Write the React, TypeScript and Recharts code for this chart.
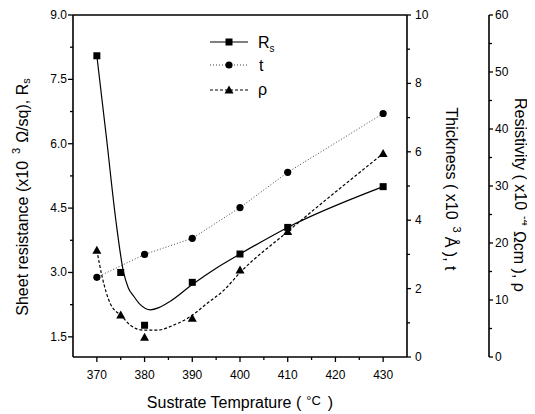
import { ComposedChart, Line, XAxis, YAxis, ReferenceLine } from 'recharts';

// measured points
const temps = [370, 375, 380, 390, 400, 410, 430];
const sheetRes = [8.05, 3.0, 1.77, 2.77, 3.43, 4.05, 5.0];
const thickTemps = [370, 380, 390, 400, 410, 430];
const thickness = [2.33, 3.0, 3.47, 4.37, 5.4, 7.12];
const resistivity = [18.75, 7.36, 3.45, 6.8, 15.25, 22.0, 35.7];

// fitted curves
const rsFitTemps = [370, 372, 374, 375.6, 376.6, 377.7, 379.1, 381.2, 383, 385.4, 390, 395, 400, 410, 430];
const rsFitValues = [8.05, 6.15, 4.2, 3.0, 2.64, 2.45, 2.25, 2.13, 2.18, 2.33, 2.72, 3.1, 3.43, 4.05, 5.0];
const rhoFitTemps = [370, 371.1, 372.8, 375.3, 377, 379.8, 382.6, 386.1, 389.6, 393.1, 396.6, 400, 410, 430];
const rhoFitValues = [18.75, 14.1, 9.4, 7.1, 5.6, 4.7, 4.7, 5.6, 7.1, 9.4, 11.7, 14.8, 22.0, 35.7];

// ticks
const xMajor = [370, 380, 390, 400, 410, 420, 430];
const xMinor = [375, 385, 395, 405, 415, 425];
const leftMajor = [1.5, 3.0, 4.5, 6.0, 7.5, 9.0];
const leftMinor = [2.25, 3.75, 5.25, 6.75, 8.25];
const thickMajor = [0, 2, 4, 6, 8, 10];
const thickMinor = [1, 3, 5, 7, 9];
const rhoMajor = [0, 10, 20, 30, 40, 50, 60];
const rhoMinor = [5, 15, 25, 35, 45, 55];

const FONT = '"Liberation Sans", Arial, sans-serif';
const W = 527;
const H = 406;

const toRows = (xs: number[], ys: number[]) => xs.map((t, i) => ({ temp: t, value: ys[i] }));

const rsData = toRows(temps, sheetRes);
const thickData = toRows(thickTemps, thickness);
const rhoData = toRows(temps, resistivity);
const rsFit = toRows(rsFitTemps, rsFitValues);
const rhoFit = toRows(rhoFitTemps, rhoFitValues);

const Square = (p: any) => (
  <rect key={`sq-${p.index}`} x={p.cx - 3.5} y={p.cy - 3.5} width={7} height={7} fill="#000" />
);
const Dot = (p: any) => <circle key={`ci-${p.index}`} cx={p.cx} cy={p.cy} r={3.6} fill="#000" />;
const Tri = (p: any) => (
  <polygon
    key={`tr-${p.index}`}
    points={`${p.cx},${p.cy - 4.5} ${p.cx + 4.5},${p.cy + 3.5} ${p.cx - 4.5},${p.cy + 3.5}`}
    fill="#000"
  />
);

const tickText = { fontSize: 12, fontFamily: FONT, fill: '#000' };

const bottomTick = (p: any) => {
  const major = xMajor.includes(p.payload.value);
  return (
    <g>
      <line x1={p.x} x2={p.x} y1={p.y} y2={p.y + (major ? 5 : 3)} stroke="#000" strokeWidth={1.3} />
      {major && (
        <text x={p.x} y={p.y + 22} textAnchor="middle" {...tickText}>
          {p.payload.value}
        </text>
      )}
    </g>
  );
};

const leftTick = (p: any) => {
  const major = leftMajor.includes(p.payload.value);
  return (
    <g>
      <line x1={p.x - (major ? 5 : 3)} x2={p.x} y1={p.y} y2={p.y} stroke="#000" strokeWidth={1.3} />
      {major && (
        <text x={p.x - 6} y={p.y + 4} textAnchor="end" {...tickText}>
          {p.payload.value.toFixed(1)}
        </text>
      )}
    </g>
  );
};

const rightTick = (majors: number[], gap: number) => (p: any) => {
  const major = majors.includes(p.payload.value);
  return (
    <g>
      <line x1={p.x} x2={p.x + (major ? 4 : 3)} y1={p.y} y2={p.y} stroke="#000" strokeWidth={1.3} />
      {major && (
        <text x={p.x + gap} y={p.y + 4} textAnchor="start" {...tickText}>
          {p.payload.value}
        </text>
      )}
    </g>
  );
};

const App = () => {
  const labelStyle = { fontSize: 16, fontFamily: FONT, fill: '#000' };
  return (
    <div style={{ position: 'relative', width: W, height: H }}>
      <ComposedChart width={W} height={H} margin={{ top: 7, right: 0, bottom: 0, left: 0 }}>
        <XAxis
          dataKey="temp"
          type="number"
          domain={[365, 435]}
          ticks={[...xMajor, ...xMinor].sort((a, b) => a - b)}
          interval={0}
          height={57}
          stroke="#000"
          strokeWidth={1.6}
          tickSize={0}
          tickMargin={0}
          tickLine={false}
          tick={bottomTick}
          allowDataOverflow
        />
        <YAxis
          yAxisId="left"
          orientation="left"
          domain={[1.03, 9]}
          ticks={[...leftMajor, ...leftMinor].sort((a, b) => a - b)}
          interval={0}
          width={65}
          stroke="#000"
          strokeWidth={1.6}
          tickSize={0}
          tickMargin={0}
          tickLine={false}
          tick={leftTick}
          allowDataOverflow
        />
        <YAxis
          yAxisId="r1"
          orientation="right"
          domain={[0, 10]}
          ticks={[...thickMajor, ...thickMinor].sort((a, b) => a - b)}
          interval={0}
          width={82}
          stroke="#000"
          strokeWidth={1.6}
          tickSize={0}
          tickMargin={0}
          tickLine={false}
          tick={rightTick(thickMajor, 8)}
        />
        <YAxis
          yAxisId="r2"
          orientation="right"
          domain={[0, 60]}
          ticks={[...rhoMajor, ...rhoMinor].sort((a, b) => a - b)}
          interval={0}
          width={46}
          stroke="#000"
          strokeWidth={1.6}
          tickSize={0}
          tickMargin={0}
          tickLine={false}
          tick={rightTick(rhoMajor, 6)}
        />
        <ReferenceLine yAxisId="left" y={9} stroke="#000" strokeWidth={1.6} />

        {/* fitted curves */}
        <Line
          yAxisId="left"
          data={rsFit}
          dataKey="value"
          type="monotone"
          stroke="#000"
          strokeWidth={1.2}
          dot={false}
          isAnimationActive={false}
        />
        <Line
          yAxisId="r2"
          data={rhoFit}
          dataKey="value"
          type="monotone"
          stroke="#000"
          strokeWidth={1.2}
          strokeDasharray="3 2"
          dot={false}
          isAnimationActive={false}
        />
        <Line
          yAxisId="r1"
          data={thickData}
          dataKey="value"
          type="linear"
          stroke="#444"
          strokeWidth={1}
          strokeDasharray="1 2"
          dot={Dot}
          isAnimationActive={false}
        />
        <Line
          yAxisId="left"
          data={rsData}
          dataKey="value"
          stroke="none"
          dot={Square}
          isAnimationActive={false}
        />
        <Line
          yAxisId="r2"
          data={rhoData}
          dataKey="value"
          stroke="none"
          dot={Tri}
          isAnimationActive={false}
        />
      </ComposedChart>

      {/* axis titles and legend */}
      <svg
        width={W}
        height={H}
        style={{ position: 'absolute', left: 0, top: 0, pointerEvents: 'none' }}
      >
        <text
          transform="translate(14,189) rotate(-90)"
          textAnchor="middle"
          dominantBaseline="central"
          {...labelStyle}
        >
          Sheet resistance (x10
          <tspan dx={7} dy={-6} fontSize={11}>3</tspan>
          <tspan dx={5} dy={6}>Ω/sq), R</tspan>
          <tspan dy={4} fontSize={11}>s</tspan>
        </text>
        <text
          transform="translate(443,181) rotate(90)"
          textAnchor="middle"
          dominantBaseline="central"
          {...labelStyle}
        >
          Thickness ( x10
          <tspan dx={7} dy={-6} fontSize={11}>3</tspan>
          <tspan dx={4} dy={6}>Å ), t</tspan>
        </text>
        <text
          transform="translate(512,187) rotate(90)"
          textAnchor="middle"
          dominantBaseline="central"
          {...labelStyle}
        >
          Resistivity ( x10
          <tspan dx={6} dy={-6} fontSize={11}>-4</tspan>
          <tspan dx={5} dy={6}>Ωcm ), ρ</tspan>
        </text>
        <text x={232} y={400} textAnchor="middle" {...labelStyle}>
          Sustrate Temprature (
          <tspan dx={5} dy={-3} fontSize={13}>°C</tspan>
          <tspan dx={7} dy={3}>)</tspan>
        </text>

        {/* legend */}
        <g>
          <line x1={202} x2={240} y1={34} y2={34} stroke="#000" strokeWidth={1.2} />
          <rect x={217.5} y={30.5} width={7} height={7} fill="#000" />
          <text x={250} y={39.5} {...labelStyle}>
            R<tspan dy={4} fontSize={10}>s</tspan>
          </text>

          <line x1={202} x2={240} y1={57} y2={57} stroke="#444" strokeWidth={1} strokeDasharray="1 2" />
          <circle cx={221} cy={57} r={3.6} fill="#000" />
          <text x={251} y={62.5} {...labelStyle}>
            t
          </text>

          <line x1={202} x2={240} y1={82} y2={82} stroke="#000" strokeWidth={1.2} strokeDasharray="3 2" />
          <polygon points="221,77.5 225.5,85.5 216.5,85.5" fill="#000" />
          <text x={250} y={87} {...labelStyle}>
            ρ
          </text>
        </g>
      </svg>
    </div>
  );
};

export default App;
